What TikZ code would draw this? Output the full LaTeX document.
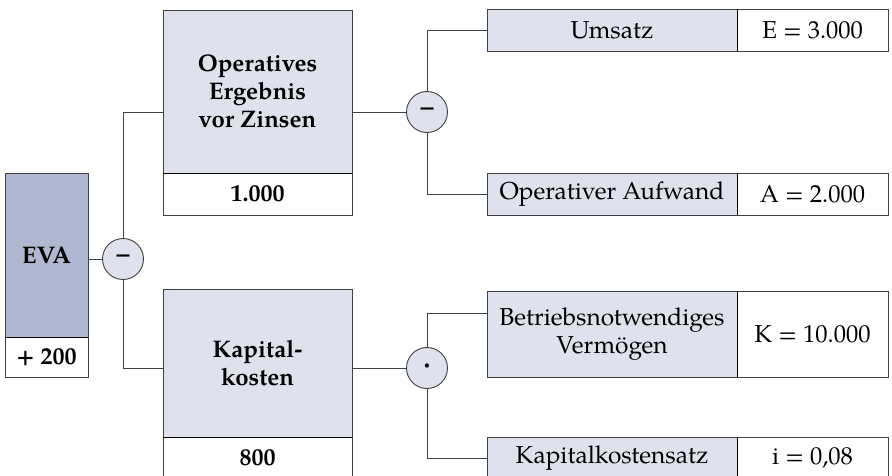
\documentclass[tikz,border=0pt]{standalone}
\usepackage{fontspec}
\setmainfont{TeX Gyre Pagella}
\begin{document}
\begin{tikzpicture}[x=1pt,y=-1pt,
  box/.style={draw=black!75, line width=0.9pt, inner sep=0pt, align=center, font=\fontsize{24.5}{28.5}\selectfont},
  bbox/.style={box, font=\fontsize{24}{28}\selectfont\bfseries},
  gbox/.style={box, fill=lightgray1},
  wbox/.style={box, fill=white},
  opc/.style={circle, draw=black!75, line width=0.9pt, fill=lightgray1, minimum size=41pt, inner sep=0pt, font=\fontsize{26}{28}\selectfont\bfseries},
  conn/.style={draw=black!75, line width=0.9pt},
  sep/.style={draw=black, line width=1.6pt}
]
\definecolor{lightgray1}{HTML}{DFE2EC}
\definecolor{evablue}{HTML}{AFB7D1}
\clip (0,0) rectangle (892,475);
% EVA
\node[bbox, fill=evablue, minimum width=83pt, minimum height=164pt] (eva) at (46.5,255) {EVA};
\node[bbox, fill=white, minimum width=83pt, minimum height=40pt] (evav) at (46.5,357) {+ 200};
% Operatives Ergebnis
\node[bbox, fill=lightgray1, minimum width=189pt, minimum height=163pt] (op) at (257.5,91.5) {Operatives\\Ergebnis\\vor Zinsen};
\node[bbox, fill=white, minimum width=189pt, minimum height=42pt] (opv) at (257.5,194) {1.000};
% Kapitalkosten
\node[bbox, fill=lightgray1, minimum width=189pt, minimum height=148pt] (kk) at (257.5,363) {Kapital-\\kosten};
\node[bbox, fill=white, minimum width=189pt, minimum height=42pt] (kkv) at (257.5,458) {800};
% right boxes
\node[gbox, minimum width=250pt, minimum height=42pt] (ums) at (612,30) {Umsatz};
\node[wbox, minimum width=151pt, minimum height=42pt] (umsv) at (812.5,30) {E = 3.000};
\node[gbox, minimum width=250pt, minimum height=42pt] (opa) at (612,194) {Operativer Aufwand};
\node[wbox, minimum width=151pt, minimum height=42pt] (opav) at (812.5,194) {A = 2.000};
\node[gbox, minimum width=250pt, minimum height=86pt] (bv) at (612,334) {Betriebsnotwendiges\\Vermögen};
\node[wbox, minimum width=151pt, minimum height=86pt] (bvv) at (812.5,334) {K = 10.000};
\node[gbox, minimum width=250pt, minimum height=42pt] (kks) at (612,458) {Kapitalkostensatz};
\node[wbox, minimum width=151pt, minimum height=42pt] (kksv) at (812.5,458) {i = 0,08};
% separators
\draw[sep] (eva.south west) -- (eva.south east);
\draw[sep] (op.south west) -- (op.south east);
\draw[sep] (kk.south west) -- (kk.south east);
\draw[sep] (ums.north east) -- (ums.south east);
\draw[sep] (opa.north east) -- (opa.south east);
\draw[sep] (bv.north east) -- (bv.south east);
\draw[sep] (kks.north east) -- (kks.south east);
% operator circles
\node[opc] (c1) at (123,259) {–};
\node[opc] (c2) at (427,112) {–};
\node[opc] (c3) at (427,368) {·};
\coordinate (bvin) at (487,313);
% connectors
\draw[conn] (c1.west) -- (c1.west -| eva.east);
\draw[conn] (c1.north) |- (op.west |- c2);
\draw[conn] (c1.south) |- (kk.west |- c3);
\draw[conn] (op.east |- c2) -- (c2.west);
\draw[conn] (kk.east |- c3) -- (c3.west);
\draw[conn] (c2.north) |- (ums.west);
\draw[conn] (c2.south) |- (opa.west);
\draw[conn] (c3.north) |- (bvin);
\draw[conn] (c3.south) |- (kks.west);
\end{tikzpicture}
\end{document}
